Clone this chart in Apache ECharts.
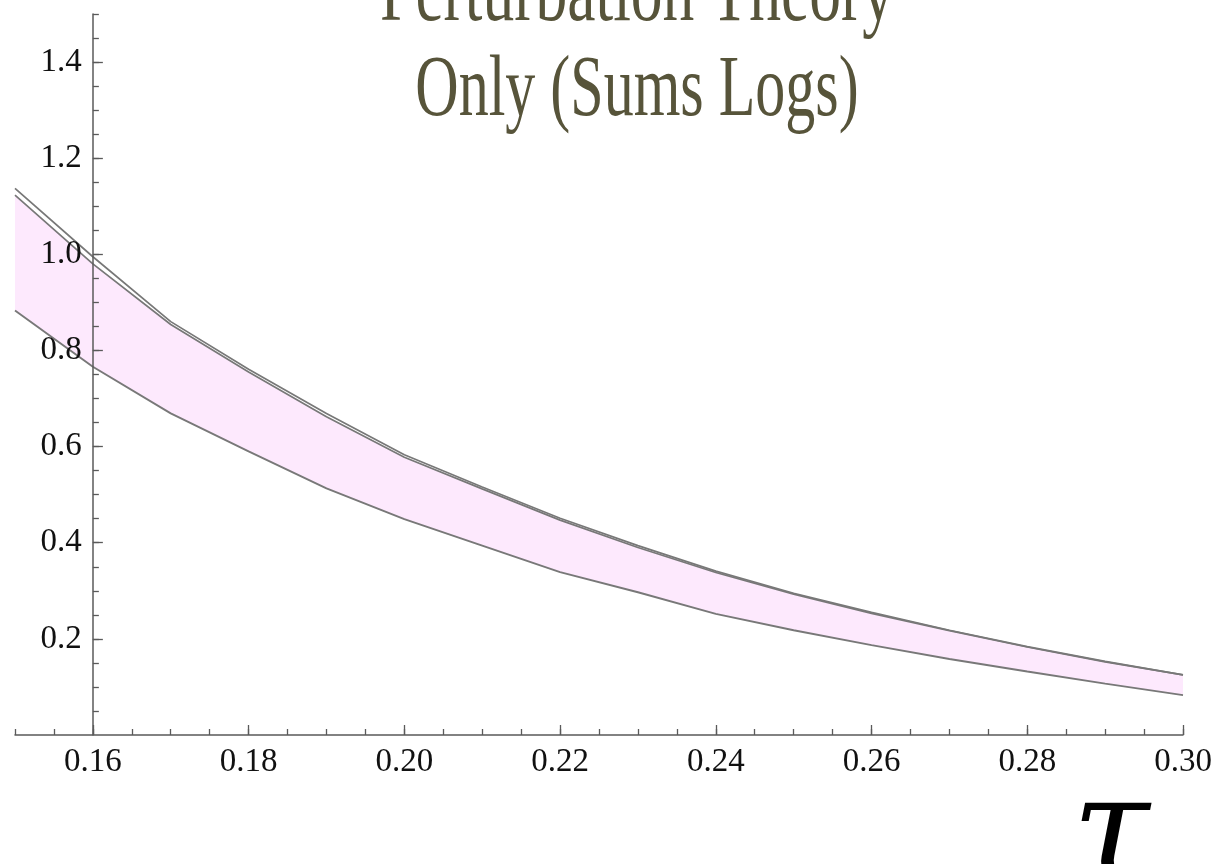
<!DOCTYPE html>
<html>
<head>
<meta charset="utf-8">
<script src="https://cdn.jsdelivr.net/npm/echarts@6/dist/echarts.min.js"></script>
<style>
html,body{margin:0;padding:0;background:#fff;}
#chart{width:1217px;height:864px;}
</style>
</head>
<body>
<div id="chart"></div>
<script>
// ---- data ----
const tau        = [0.15, 0.16, 0.17, 0.18, 0.19, 0.20, 0.21, 0.22, 0.23, 0.24, 0.25, 0.26, 0.27, 0.28, 0.29, 0.30];
const upperOuter = [1.137, 0.995, 0.860, 0.761, 0.669, 0.583, 0.516, 0.451, 0.394, 0.341, 0.295, 0.255, 0.218, 0.184, 0.153, 0.125];
const upperInner = [1.123, 0.980, 0.854, 0.755, 0.662, 0.578, 0.512, 0.447, 0.390, 0.338, 0.293, 0.253, 0.217, 0.183, 0.152, 0.125];
const lower      = [0.883, 0.766, 0.669, 0.590, 0.513, 0.449, 0.394, 0.339, 0.297, 0.252, 0.218, 0.187, 0.158, 0.132, 0.107, 0.083];
const xMajorTicks = [0.16, 0.18, 0.20, 0.22, 0.24, 0.26, 0.28, 0.30];
const yMajorTicks = [0.2, 0.4, 0.6, 0.8, 1.0, 1.2, 1.4];
const xMinorTicks = [0.15,0.155,0.16,0.165,0.17,0.175,0.18,0.185,0.19,0.195,0.20,0.205,0.21,0.215,0.22,0.225,0.23,0.235,0.24,0.245,0.25,0.255,0.26,0.265,0.27,0.275,0.28,0.285,0.29,0.295,0.30];
const yMinorTicks = [0.05,0.1,0.15,0.2,0.25,0.3,0.35,0.4,0.45,0.5,0.55,0.6,0.65,0.7,0.75,0.8,0.85,0.9,0.95,1.0,1.05,1.1,1.15,1.2,1.25,1.3,1.35,1.4,1.45,1.5];
const titleLines = ['Perturbation Theory', 'Only (Sums Logs)'];
const xName = 'τ';

// ---- layout ----
const W = 1217, gridLeft = 15, gridRight = 34, gridTop = 14, gridBottom = 129;
const xMin = 0.15, xMax = 0.30, yMin = 0, yMax = 1.5, yAxisAt = 0.16;
const plotW = W - gridLeft - gridRight;
const yOffset = -(yAxisAt - xMin) / (xMax - xMin) * plotW;

const zip = (xs, ys) => xs.map((x, i) => [x, ys[i]]);

const axisColor = '#5a5a5a';
const lineColor = '#787878';
const labelFont = {fontFamily: 'Liberation Serif', fontSize: 33, color: '#111'};

const chart = echarts.init(document.getElementById('chart'), null, {renderer: 'canvas'});
chart.setOption({
  animation: false,
  backgroundColor: '#ffffff',
  grid: {left: gridLeft, right: gridRight, top: gridTop, bottom: gridBottom, containLabel: false},
  xAxis: [
    {
      type: 'value', min: xMin, max: xMax, position: 'bottom', z: 10,
      axisLine: {show: true, onZero: false, lineStyle: {color: axisColor, width: 1.5}},
      axisTick: {show: true, inside: true, length: 10, customValues: xMajorTicks, lineStyle: {color: axisColor, width: 1.3}},
      axisLabel: Object.assign({show: true, margin: 11, customValues: xMajorTicks, formatter: v => v.toFixed(2)}, labelFont),
      splitLine: {show: false}
    },
    {
      type: 'value', min: xMin, max: xMax, position: 'bottom', offset: 0, z: 10,
      axisLine: {show: false},
      axisTick: {show: true, inside: true, length: 6, customValues: xMinorTicks, lineStyle: {color: axisColor, width: 1.3}},
      axisLabel: {show: false},
      splitLine: {show: false}
    }
  ],
  yAxis: [
    {
      type: 'value', min: yMin, max: yMax, position: 'left', offset: yOffset, z: 10,
      axisLine: {show: true, onZero: false, lineStyle: {color: axisColor, width: 1.5}},
      axisTick: {show: true, inside: true, length: 10, customValues: yMajorTicks, lineStyle: {color: axisColor, width: 1.3}},
      axisLabel: Object.assign({show: true, margin: 11, customValues: yMajorTicks, formatter: v => v.toFixed(1)}, labelFont),
      splitLine: {show: false}
    },
    {
      type: 'value', min: yMin, max: yMax, position: 'left', offset: yOffset, z: 10,
      axisLine: {show: false},
      axisTick: {show: true, inside: true, length: 6, customValues: yMinorTicks, lineStyle: {color: axisColor, width: 1.3}},
      axisLabel: {show: false},
      splitLine: {show: false}
    }
  ],
  series: [
    {
      name: 'band', type: 'custom', xAxisIndex: 0, yAxisIndex: 0,
      data: [[xMin, yMin]], z: 1, silent: true,
      renderItem: function (params, api) {
        const top = tau.map((x, i) => api.coord([x, upperInner[i]]));
        const bot = tau.map((x, i) => api.coord([x, lower[i]])).reverse();
        return {
          type: 'polygon',
          shape: {points: top.concat(bot)},
          style: {fill: '#fde9fd', stroke: null}
        };
      }
    },
    {
      name: 'lower', type: 'line', xAxisIndex: 0, yAxisIndex: 0,
      data: zip(tau, lower), symbol: 'none', smooth: false,
      lineStyle: {color: lineColor, width: 1.9}, z: 5
    },
    {
      name: 'upperInner', type: 'line', xAxisIndex: 0, yAxisIndex: 0,
      data: zip(tau, upperInner), symbol: 'none', smooth: false,
      lineStyle: {color: lineColor, width: 1.7}, z: 5
    },
    {
      name: 'upperOuter', type: 'line', xAxisIndex: 0, yAxisIndex: 0,
      data: zip(tau, upperOuter), symbol: 'none', smooth: false,
      lineStyle: {color: lineColor, width: 1.7}, z: 5
    }
  ],
  graphic: [
    {
      type: 'text', x: 637, y: -3, scaleX: 1.06, scaleY: 1.45, z: 10,
      style: {text: titleLines[0], x: 0, y: 0, fill: '#57543a', fontFamily: 'Liberation Serif', fontSize: 60, textAlign: 'center', textVerticalAlign: 'middle'}
    },
    {
      type: 'text', x: 637, y: 92, scaleX: 1.0, scaleY: 1.45, z: 10,
      style: {text: titleLines[1], x: 0, y: 0, fill: '#57543a', fontFamily: 'Liberation Serif', fontSize: 60, textAlign: 'center', textVerticalAlign: 'middle'}
    },
    {
      type: 'text', x: 1111, y: 840, z: 10,
      style: {text: xName, x: 0, y: 0, fill: '#000', fontFamily: 'DejaVu Serif', fontStyle: 'italic', fontSize: 140, textAlign: 'center', textVerticalAlign: 'middle'}
    }
  ]
});
</script>
</body>
</html>
